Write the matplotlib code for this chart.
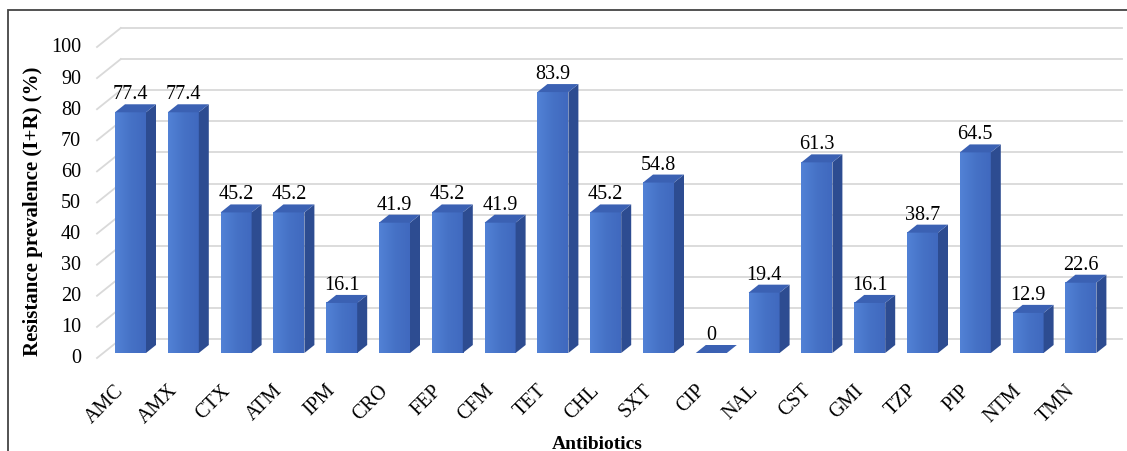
import numpy as np
import matplotlib.pyplot as plt
from matplotlib.patches import Polygon, Rectangle
from matplotlib.colors import LinearSegmentedColormap

antibiotics = ["AMC", "AMX", "CTX", "ATM", "IPM", "CRO", "FEP", "CFM", "TET", "CHL",
               "SXT", "CIP", "NAL", "CST", "GMI", "TZP", "PIP", "NTM", "TMN"]
resistance = [77.4, 77.4, 45.2, 45.2, 16.1, 41.9, 45.2, 41.9, 83.9, 45.2,
              54.8, 0, 19.4, 61.3, 16.1, 38.7, 64.5, 12.9, 22.6]
yticks = list(range(0, 101, 10))

plt.rcParams['font.family'] = ['Liberation Serif', 'DejaVu Serif']

W, H = 1127, 452
fig = plt.figure(figsize=(W / 100, H / 100), dpi=100)
ax = fig.add_axes([104.1 / W, 1 - 354 / H, 1003.2 / W, 311 / H])
ax.axis('off')

n = len(antibiotics)
px = n / 1003.2   # data units per pixel (x)
py = 100 / 311    # data units per pixel (y)


def off(d):
    # depth offset (in pixels) -> data offset
    return 1.25 * d * px, d * py


# side wall + back wall gridlines
x_wall_front = -0.5 + (97 - 104.1) * px
fx, fy = off(-5)
bx, by = off(14)
x_right = -0.5 + (1122 - 104.1) * px
grid_c = '#d9d9d9'
for v in yticks:
    ax.plot([x_wall_front, x_wall_front + bx - fx], [v + fy, v + by], color=grid_c, lw=1.3, clip_on=False)
    ax.plot([x_wall_front + bx - fx, x_right], [v + by, v + by], color=grid_c, lw=1.3, clip_on=False)
    ax.text(x_wall_front - 16 * px, v + fy, str(v), ha='right', va='center', fontsize=14.5)

# bars
cmap = LinearSegmentedColormap.from_list('front', ['#5282d6', '#4672c6', '#4069bf'])
hw = 15.5 * px
dx, dy = off(8)
for i, (name, v) in enumerate(zip(antibiotics, resistance)):
    if v > 0:
        ax.imshow(np.linspace(0, 1, 60).reshape(1, -1), extent=[i - hw, i + hw, 0, v],
                  aspect='auto', cmap=cmap, zorder=3)
        side = [(i + hw, 0), (i + hw + dx, dy), (i + hw + dx, v + dy), (i + hw, v)]
        ax.add_patch(Polygon(side, closed=True, fc='#2d4c91', ec='none', zorder=3))
    top = [(i - hw, v), (i + hw, v), (i + hw + dx, v + dy), (i - hw + dx, v + dy)]
    ax.add_patch(Polygon(top, closed=True, fc='#3b61b3', ec='none', zorder=3))
    ax.annotate(f"{v:g}", (i, v), xytext=(0, 9), textcoords='offset pixels',
                ha='center', va='bottom', fontsize=14.5, zorder=4)
    ax.annotate(name, (i, 0), xytext=(-9, -34), textcoords='offset pixels',
                ha='right', va='center', rotation=45, rotation_mode='anchor', fontsize=14.5)

ax.set_xlim(-0.5, n - 0.5)
ax.set_ylim(0, 100)

fig.text(597 / W, 1 - 445 / H, "Antibiotics", ha='center', va='center',
         fontsize=14, fontweight='bold')
fig.text(33 / W, 1 - 211 / H, "Resistance prevalence (I+R) (%)", ha='center', va='center',
         rotation=90, fontsize=15, fontweight='bold')

fig.add_artist(Rectangle((8 / W, -0.1), 1.2, 1.1 - 11 / H, transform=fig.transFigure,
                         fill=False, ec='#444444', lw=1.3))

fig.savefig('out.png', dpi=100)
